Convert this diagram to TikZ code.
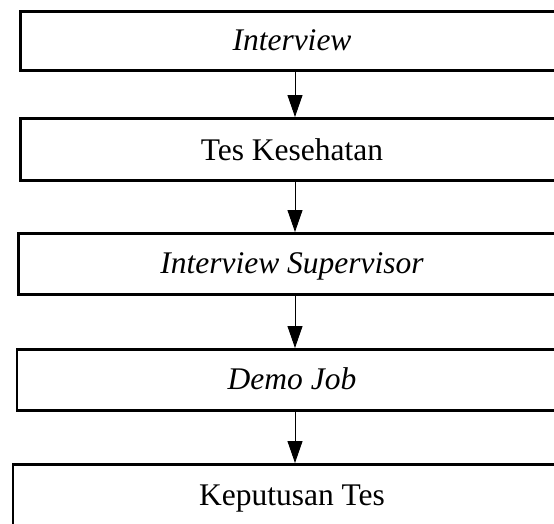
\documentclass[tikz,border=0pt]{standalone}
\usepackage{fontspec}
\setmainfont{Liberation Serif}
\usetikzlibrary{arrows.meta}
\begin{document}
\begin{tikzpicture}[x=1pt,y=-1pt,
  box/.style={draw, line width=2.6pt, rectangle, inner sep=0pt, anchor=north west},
  lbl/.style={anchor=base, inner sep=0pt, font=\fontsize{31.5}{36}\selectfont},
  arr/.style={line width=0.9pt, -{Triangle[length=22pt,width=15pt]}}]
\useasboundingbox (0,0) rectangle (554,523);
\clip (0,0) rectangle (554,523);
\fill[white] (0,0) rectangle (554,523);
\node[box, minimum width=620pt, minimum height=59pt] (b1) at (19,10) {};
\node[box, minimum width=620pt, minimum height=62pt] (b2) at (19,117) {};
\node[box, minimum width=620pt, minimum height=61pt] (b3) at (17.3,232) {};
\node[box, minimum width=620pt, minimum height=61pt] (b4) at (15.7,348) {};
\node[box, minimum width=620pt, minimum height=75pt] (b5) at (11.7,463) {};
\node[lbl] (t1) at (292,50) {\textit{Interview}};
\node[lbl] (t2) at (292,160) {Tes Kesehatan};
\node[lbl] (t3) at (292,273) {\textit{Interview Supervisor}};
\node[lbl] (t4) at (292,389) {\textit{Demo Job}};
\node[lbl] (t5) at (292,505) {Keputusan Tes};
\coordinate (ax) at (295,0);
\draw[arr] (b1.south -| ax) -- (b2.north -| ax);
\draw[arr] (b2.south -| ax) -- (b3.north -| ax);
\draw[arr] (b3.south -| ax) -- (b4.north -| ax);
\draw[arr] (b4.south -| ax) -- (b5.north -| ax);
\end{tikzpicture}
\end{document}
